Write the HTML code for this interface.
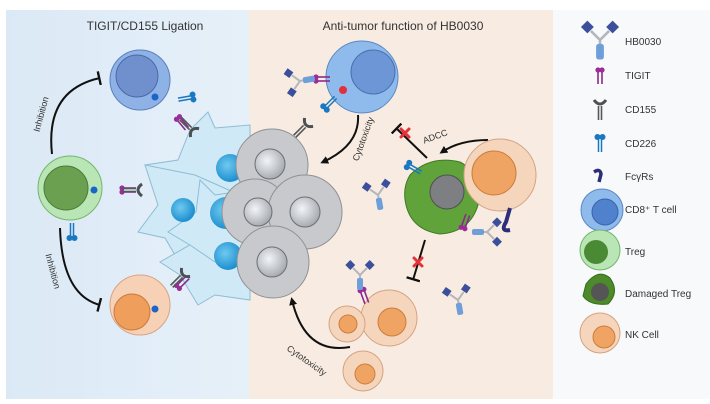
<!DOCTYPE html>
<html><head><meta charset="utf-8"><style>
html,body{margin:0;padding:0;background:#fff;}
svg{display:block;font-family:"Liberation Sans",sans-serif;}
</style></head><body>
<svg width="710" height="404" viewBox="0 0 710 404" xmlns="http://www.w3.org/2000/svg">
<defs>
<radialGradient id="gn" cx="0.4" cy="0.4" r="0.6"><stop offset="0" stop-color="#f2f4f7"/><stop offset="1" stop-color="#a9adb3"/></radialGradient>
<radialGradient id="bn" cx="0.4" cy="0.4" r="0.6"><stop offset="0" stop-color="#6fc9f0"/><stop offset="1" stop-color="#1d8fcf"/></radialGradient>
<linearGradient id="lb" x1="0" y1="0" x2="1" y2="0"><stop offset="0" stop-color="#dbe9f6"/><stop offset="1" stop-color="#e6f0f9"/></linearGradient>
<g id="ab"><path d="M0,0 L-7,-7 M0,0 L7,-7 M0,0 L0,9" stroke="#b3b7bd" stroke-width="2"/><rect x="-13" y="-14" width="7" height="7" fill="#3c4f9a" transform="rotate(-45 -9 -10)"/><rect x="6" y="-14" width="7" height="7" fill="#3c4f9a" transform="rotate(45 9 -10)"/><rect x="-3" y="3" width="6" height="12" rx="2" fill="#6f9fd8"/></g>
<g id="tig"><line x1="-2" y1="0" x2="-2" y2="14" stroke="#8a2a8c" stroke-width="1.6"/><line x1="2" y1="0" x2="2" y2="14" stroke="#8a2a8c" stroke-width="1.6"/><circle cx="-2" cy="0" r="2.6" fill="#9a2d98"/><circle cx="2" cy="0" r="2.6" fill="#9a2d98"/></g>
<g id="cd155"><path d="M-6,-4 Q0,4 6,-4" stroke="#4d4f52" stroke-width="3" fill="none"/><line x1="-1.5" y1="2" x2="-1.5" y2="16" stroke="#55575a" stroke-width="1.6"/><line x1="1.5" y1="2" x2="1.5" y2="16" stroke="#55575a" stroke-width="1.6"/></g>
<g id="cd226"><circle cx="-2.5" cy="0" r="3" fill="#1a78c0"/><circle cx="2.5" cy="0" r="3" fill="#1a78c0"/><line x1="-1.5" y1="2" x2="-1.5" y2="15" stroke="#1a78c0" stroke-width="1.5"/><line x1="1.5" y1="2" x2="1.5" y2="15" stroke="#1a78c0" stroke-width="1.5"/></g>
<g id="rx"><path d="M-4,-4 L4,4 M4,-4 L-4,4" stroke="#e53238" stroke-width="3" stroke-linecap="round"/></g>
<marker id="ar" markerWidth="8" markerHeight="8" refX="5" refY="4" orient="auto" markerUnits="userSpaceOnUse"><path d="M0,0 L8,4 L0,8 Z" fill="#111"/></marker>
<marker id="tb" markerWidth="4" markerHeight="14" refX="2" refY="7" orient="auto" markerUnits="userSpaceOnUse"><rect x="0" y="0" width="2.4" height="14" fill="#111"/></marker>
</defs>
<rect width="710" height="404" fill="#fff"/>
<rect x="6" y="10" width="243" height="389" fill="url(#lb)"/>
<rect x="249" y="10" width="304" height="389" fill="#f8ece2"/>
<rect x="553" y="10" width="157" height="389" fill="#f7f9fb"/>
<text x="145" y="30" font-size="12" text-anchor="middle" fill="#333">TIGIT/CD155 Ligation</text>
<text x="403" y="30" font-size="12" text-anchor="middle" fill="#333">Anti-tumor function of HB0030</text>

<path d="M52,154 Q45,90 100,78" stroke="#111" stroke-width="2" fill="none" marker-end="url(#tb)"/>
<text transform="translate(44,115) rotate(-75)" font-size="9" fill="#333" text-anchor="middle">Inhibition</text>
<path d="M60,228 Q62,295 100,305" stroke="#111" stroke-width="2" fill="none" marker-end="url(#tb)"/>
<text transform="translate(50,272) rotate(75)" font-size="9" fill="#333" text-anchor="middle">Inhibition</text>

<!-- tumor blue cells -->
<g fill="#cfeaf6" stroke="#8dbdd4" stroke-width="1">
<path d="M190,130 L208,112 L215,128 L250,125 L250,195 L200,205 L165,185 L145,165 L178,160 Z"/>
<path d="M165,238 L138,232 L158,205 L145,165 L195,175 L240,195 L240,250 L195,265 L175,255 Z"/>
<path d="M180,275 L160,262 L195,242 L235,228 L250,240 L250,300 L215,295 L198,305 Z"/>
<path d="M190,245 L168,232 L196,212 L200,180 L215,195 L250,190 L250,262 L215,262 Z"/>
</g>
<g fill="url(#bn)"><circle cx="230" cy="168" r="14"/><circle cx="183" cy="210" r="12"/><circle cx="226" cy="213" r="16"/><circle cx="228" cy="256" r="14"/></g>
<g fill="#c7c9cc" stroke="#8e9296" stroke-width="1">
<circle cx="272" cy="165" r="36"/>
<circle cx="255" cy="212" r="33"/>
<circle cx="305" cy="212" r="37"/>
<circle cx="273" cy="262" r="36"/>
</g>
<g fill="url(#gn)" stroke="#6b6e72"><circle cx="270" cy="164" r="15"/><circle cx="305" cy="212" r="15"/><circle cx="258" cy="212" r="14"/><circle cx="272" cy="262" r="15"/></g>

<circle cx="140" cy="80" r="30" fill="#8fb2e6" stroke="#5c7fbc"/><circle cx="137" cy="76" r="21" fill="#6f8fcd" stroke="#4b68a8"/>
<circle cx="155" cy="97" r="3.5" fill="#1a66c8"/>
<use href="#cd226" transform="translate(193,97) rotate(80)"/>
<use href="#tig" transform="translate(178,118) rotate(-40)"/>
<use href="#cd155" transform="translate(192,130) rotate(135)"/>
<circle cx="70" cy="188" r="32" fill="#b9e6b4" stroke="#74b56f"/><circle cx="66" cy="188" r="22" fill="#6aa050" stroke="#4c7d3a"/>
<circle cx="94" cy="190" r="3.5" fill="#1a66c8"/>
<use href="#tig" transform="translate(122,190) rotate(-90)"/>
<use href="#cd155" transform="translate(138,190) rotate(90)"/>
<use href="#cd226" transform="translate(72,238) rotate(180)"/>
<circle cx="140" cy="305" r="30" fill="#f6d1b6" stroke="#d9a482"/><circle cx="132" cy="312" r="18" fill="#ef9e5c" stroke="#c87a3c"/>
<circle cx="155" cy="309" r="3.5" fill="#1a66c8"/>
<use href="#tig" transform="translate(178,287) rotate(-135)"/>
<use href="#cd155" transform="translate(183,275) rotate(45)"/>

<circle cx="362" cy="77" r="36" fill="#8fbbec" stroke="#5c87c4"/><circle cx="373" cy="72" r="22" fill="#6d96d6" stroke="#4b6fb0"/>
<circle cx="343" cy="90" r="4" fill="#e0303a"/>
<use href="#tig" transform="translate(316,79) rotate(-90)"/>
<use href="#ab" transform="translate(300,81) rotate(-100)"/>
<use href="#cd226" transform="translate(325,108) rotate(-135)"/>
<use href="#cd155" transform="translate(306,125) rotate(45)"/>
<path d="M358,115 Q360,145 323,162" stroke="#111" stroke-width="2" fill="none" marker-end="url(#ar)"/>
<text transform="translate(366,140) rotate(-70)" font-size="9" fill="#333" text-anchor="middle">Cytotoxicity</text>
<line x1="427" y1="158" x2="396" y2="128" stroke="#111" stroke-width="2" marker-end="url(#tb)"/>
<use href="#rx" transform="translate(405,133)"/>
<text x="424" y="138" font-size="9" fill="#333" transform="rotate(-20 440 140)">ADCC</text>
<path d="M488,140 Q460,140 442,152" stroke="#111" stroke-width="2" fill="none" marker-end="url(#ar)"/>
<path d="M410,175 Q430,155 460,162 Q480,172 478,205 Q470,232 440,234 Q412,230 406,205 Q402,188 410,175Z" fill="#5fa33a" stroke="#3f7a26"/>
<circle cx="447" cy="192" r="17" fill="#7d7f82" stroke="#4e5053"/>
<use href="#cd226" transform="translate(408,165) rotate(-60)"/>
<use href="#tig" transform="translate(463,228) rotate(200)"/>
<use href="#ab" transform="translate(487,232) rotate(90)"/>
<circle cx="500" cy="175" r="36" fill="#f6d5bd" stroke="#d3a382"/><circle cx="494" cy="173" r="22" fill="#f0a463" stroke="#c97e3e"/>
<path d="M510,208 L506,222 Q500,232 510,230" stroke="#2e2d7a" stroke-width="4" fill="none"/>
<use href="#ab" transform="translate(378,195) rotate(-10)"/>
<use href="#ab" transform="translate(458,300) rotate(-10)"/>
<line x1="425" y1="240" x2="413" y2="280" stroke="#111" stroke-width="2" marker-end="url(#tb)"/>
<use href="#rx" transform="translate(418,262)"/>
<circle cx="389" cy="318" r="28" fill="#f6d5bd" stroke="#d3a382"/><circle cx="392" cy="322" r="14" fill="#f0a463" stroke="#c97e3e"/>
<circle cx="347" cy="324" r="18" fill="#f6d5bd" stroke="#d3a382"/><circle cx="348" cy="324" r="9" fill="#f0a463" stroke="#c97e3e"/>
<circle cx="363" cy="371" r="20" fill="#f6d5bd" stroke="#d3a382"/><circle cx="365" cy="374" r="10" fill="#f0a463" stroke="#c97e3e"/>
<use href="#tig" transform="translate(362,290) rotate(-20)"/>
<use href="#ab" transform="translate(360,275) rotate(0)"/>
<path d="M350,347 Q305,355 292,300" stroke="#111" stroke-width="2" fill="none" marker-end="url(#ar)"/>
<text transform="translate(305,363) rotate(35)" font-size="9" fill="#333" text-anchor="middle">Cytotoxicity</text>

<use href="#ab" transform="translate(600,40) scale(1.3)"/>
<text x="625" y="45" font-size="10" fill="#333">HB0030</text>
<use href="#tig" transform="translate(600,70)"/>
<text x="625" y="79" font-size="10" fill="#333">TIGIT</text>
<use href="#cd155" transform="translate(600,104)"/>
<text x="625" y="113" font-size="10" fill="#333">CD155</text>
<use href="#cd226" transform="translate(600,137)"/>
<text x="625" y="147" font-size="10" fill="#333">CD226</text>
<path d="M599,182 L601,174 Q600,168 594,172" stroke="#2e2d7a" stroke-width="3.5" fill="none"/>
<text x="625" y="180" font-size="10" fill="#333">FcγRs</text>
<circle cx="602" cy="210" r="21" fill="#8fbbec" stroke="#5c87c4"/><circle cx="605" cy="212" r="13" fill="#4f81cc" stroke="#3a62a8"/>
<text x="625" y="213" font-size="10" fill="#333">CD8⁺ T cell</text>
<circle cx="600" cy="250" r="20" fill="#b9e6b4" stroke="#74b56f"/><circle cx="596" cy="252" r="12" fill="#4a8a35"/>
<text x="625" y="255" font-size="10" fill="#333">Treg</text>
<path d="M586,284 Q598,268 610,278 Q620,292 608,304 Q590,306 583,296Z" fill="#4d8a2a" stroke="#356b1d"/><circle cx="600" cy="292" r="9" fill="#555"/>
<text x="625" y="297" font-size="10" fill="#333">Damaged Treg</text>
<circle cx="600" cy="333" r="20" fill="#f6d5bd" stroke="#d3a382"/><circle cx="604" cy="337" r="11" fill="#f0a463" stroke="#c97e3e"/>
<text x="625" y="338" font-size="10" fill="#333">NK Cell</text>
</svg>
</body></html>
